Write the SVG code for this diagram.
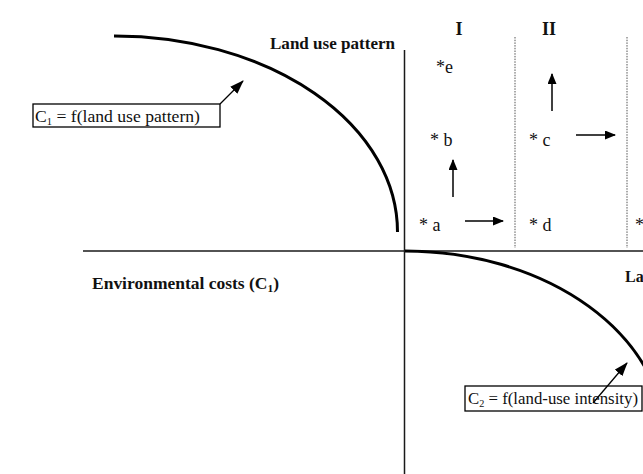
<svg xmlns="http://www.w3.org/2000/svg" width="643" height="474" viewBox="0 0 643 474">
<style>
.ax{stroke:#1a1a1a;stroke-width:1.5;fill:none}
.dash{stroke:#555;stroke-width:1;stroke-dasharray:1.5 1.2;fill:none}
.crv{stroke:#000;stroke-width:3;fill:none}
.arr{stroke:#000;stroke-width:1.5;fill:none;marker-end:url(#ah)}
.bx{fill:#fff;stroke:#000;stroke-width:1.3}
.b{font-family:"Liberation Serif","Times New Roman",serif;font-weight:bold;fill:#111}
.t{font-family:"Liberation Serif","Times New Roman",serif;fill:#111}
</style>
<defs>
<marker id="ah" markerWidth="11" markerHeight="9" refX="10" refY="4.5" orient="auto" markerUnits="userSpaceOnUse">
<path d="M0,0 L11,4.5 L0,9 Z" fill="#000"/>
</marker>
<marker id="ah2" markerWidth="14" markerHeight="10" refX="13" refY="5" orient="auto" markerUnits="userSpaceOnUse">
<path d="M0,0 L14,5 L0,10 Z" fill="#000"/>
</marker>
</defs>
<rect width="643" height="474" fill="#fff"/>
<g id="axes">
<line class="ax" x1="83" y1="251" x2="643" y2="251"/>
<line class="ax" x1="404.5" y1="50" x2="404.5" y2="474"/>
<line class="dash" x1="515" y1="37" x2="515" y2="248"/>
<line class="dash" x1="627" y1="37" x2="627" y2="248"/>
</g>
<g id="labels">
<text class="b" x="270" y="49" font-size="16.5" textLength="125" lengthAdjust="spacingAndGlyphs">Land use pattern</text>
<text class="b" x="92" y="289" font-size="16" textLength="187" lengthAdjust="spacingAndGlyphs">Environmental costs  (C<tspan font-size="10.5" dy="3">1</tspan><tspan dy="-3">)</tspan></text>
<text class="b" x="625" y="282" font-size="16">La</text>
<text class="b" x="459" y="35" font-size="18" text-anchor="middle">I</text>
<text class="b" x="549" y="35" font-size="18" text-anchor="middle">II</text>
</g>
<g id="curve1">
<path class="crv" d="M114,36 A283,196 0 0,1 397.5,232"/>
</g>
<g id="curve2">
<path class="crv" d="M405,251 A260,189 0 0,1 665,440"/>
</g>
<g id="points">
<text class="t" x="436" y="73" font-size="18">*e</text>
<text class="t" x="430" y="146" font-size="18">* b</text>
<text class="t" x="419" y="231" font-size="18">* a</text>
<text class="t" x="529" y="146" font-size="18">* c</text>
<text class="t" x="529" y="231" font-size="18">* d</text>
<text class="t" x="635" y="231" font-size="18">*</text>
</g>
<g id="connectors">
<line class="arr" x1="453" y1="197" x2="453" y2="160"/>
<line class="arr" x1="465" y1="221" x2="503" y2="221"/>
<line class="arr" x1="552" y1="111" x2="552" y2="74"/>
<line class="arr" x1="576" y1="135" x2="615" y2="135"/>
</g>
<g id="box1">
<rect class="bx" x="33" y="104" width="187" height="23"/>
<text class="t" x="35" y="122" font-size="17.5" textLength="165" lengthAdjust="spacingAndGlyphs">C<tspan font-size="10.5" dy="3">1</tspan><tspan dy="-3"> = f(land use pattern)</tspan></text>
<line stroke="#000" stroke-width="1.3" x1="220" y1="104" x2="243" y2="81" marker-end="url(#ah2)"/>
</g>
<g id="box2">
<rect class="bx" x="465" y="386" width="177" height="25"/>
<text class="t" x="468" y="404" font-size="16.5" textLength="170" lengthAdjust="spacingAndGlyphs">C<tspan font-size="10" dy="3">2</tspan><tspan dy="-3"> = f(land-use intensity)</tspan></text>
<line stroke="#000" stroke-width="1.3" x1="593" y1="403" x2="627" y2="363" marker-end="url(#ah2)"/>
</g>
</svg>
